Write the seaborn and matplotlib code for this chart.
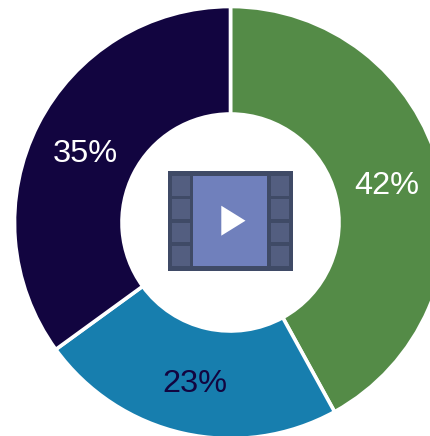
import matplotlib
matplotlib.use("Agg")
import matplotlib.pyplot as plt
from matplotlib.patches import Rectangle, Polygon
import seaborn as sns

labels = ["42%", "23%", "35%"]
values = [42, 23, 35]
colors = ["#548B47", "#177EAE", "#120540"]
label_colors = ["white", "#120540", "white"]
label_xy = [(386.5, 186), (194.5, 384), (85.5, 154)]

W, H = 430, 436
CX, CY, R, R_IN = 230.5, 222.5, 216, 108.5

sns.set_theme(style="white")
plt.rcParams["font.family"] = ["Liberation Sans", "DejaVu Sans"]

fig = plt.figure(figsize=(W / 100, H / 100), dpi=100)
ax = fig.add_axes([0, 0, 1, 1])
palette = sns.color_palette(colors)

ax.pie(values, colors=palette, startangle=90, counterclock=False,
       center=(CX, H - CY), radius=R,
       wedgeprops=dict(width=R - R_IN, edgecolor="white", linewidth=2.6))
ax.set_xlim(0, W)
ax.set_ylim(0, H)
ax.set_aspect("equal")
ax.axis("off")

for text, color, (x, y) in zip(labels, label_colors, label_xy):
    ax.text(x, H - y, text, color=color, fontsize=23.4, ha="center", va="center")


def box(x0, y0, x1, y1, color):
    ax.add_patch(Rectangle((x0, H - y1), x1 - x0, y1 - y0, facecolor=color,
                           edgecolor="none", zorder=3))


# Film-strip icon in the centre hole
box(168, 171.5, 292.7, 270.5, "#3F4A66")
for cx0, cx1 in [(172, 190), (271.3, 289)]:
    for cy0, cy1 in [(175.7, 195.7), (199.3, 219), (223, 242.3), (246.3, 265.7)]:
        box(cx0, cy0, cx1, cy1, "#535E80")
box(193.3, 176, 267.3, 266, "#7080BC")
ax.add_patch(Polygon([(221.3, H - 205.7), (221.3, H - 235.7), (245.5, H - 220.7)],
                     closed=True, facecolor="white", edgecolor="none", zorder=4))

fig.savefig("out.png", dpi=100, facecolor="white")
